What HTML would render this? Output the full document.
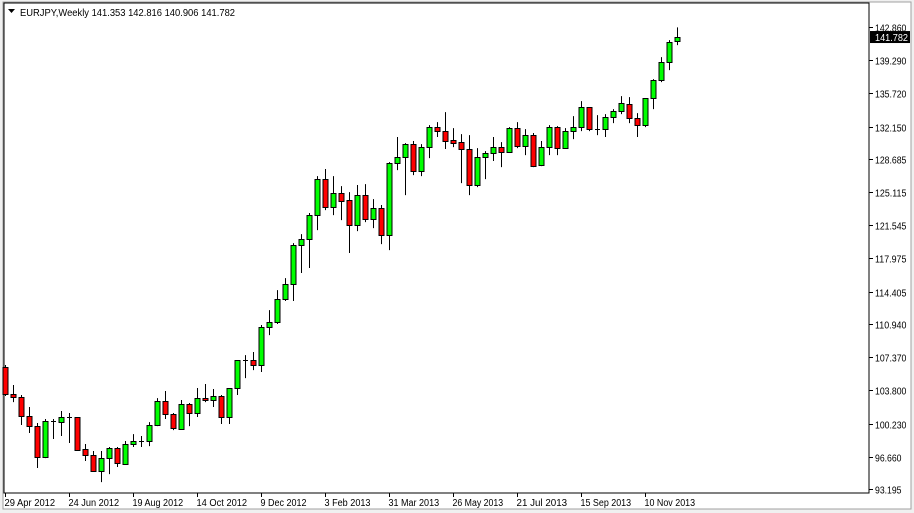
<!DOCTYPE html>
<html><head><meta charset="utf-8"><style>
body{margin:0;width:914px;height:513px;overflow:hidden;background:#fff;font-family:"Liberation Sans",sans-serif;}
svg{display:block}
text{font-family:"Liberation Sans",sans-serif;font-size:10px;}
</style></head><body>
<svg id="chart" width="914" height="513" xmlns="http://www.w3.org/2000/svg">
<rect x="0" y="0" width="914" height="513" fill="#f0f0f0"/>
<rect x="3" y="2" width="908" height="507" fill="#fff" stroke="#a0a0a0"/>
<rect x="4" y="3" width="865" height="490" fill="#fff" stroke="#000"/>
<g id="candles"></g>
<g id="yaxis"></g>
<g id="xaxis"></g>
<path d="M8,9 L15,9 L11.5,13 Z" fill="#000"/>
<text x="20" y="16" fill="#000" textLength="215" lengthAdjust="spacingAndGlyphs">EURJPY,Weekly  141.353 142.816 140.906 141.782</text>
</svg>
<script>
const opens=[106.31,103.40,103.08,101.04,99.96,96.63,100.39,100.39,100.93,100.93,97.49,96.85,95.13,96.52,97.60,95.88,98.03,98.35,98.35,100.07,102.65,101.25,99.64,102.33,101.36,102.97,102.76,103.19,100.93,104.05,107.06,107.06,106.52,110.60,111.14,113.61,115.23,119.42,120.06,122.64,126.51,123.50,125.01,124.25,121.57,124.79,122.21,123.39,120.49,128.23,128.88,130.27,127.37,129.95,132.10,131.67,130.70,130.49,129.74,125.87,128.88,129.31,129.95,129.41,131.99,130.06,131.24,128.02,129.95,132.10,129.84,131.67,132.10,134.25,131.88,131.88,133.17,133.82,134.57,133.07,132.31,135.22,137.15,139.09,141.353];
const highs=[106.52,104.37,103.30,102.01,100.29,100.72,100.72,101.58,101.36,100.93,98.03,97.28,97.28,97.71,97.71,98.35,99.10,98.89,100.39,102.97,103.73,101.36,102.76,102.44,104.05,104.48,103.94,103.30,104.05,107.06,107.59,107.92,110.82,112.43,114.58,115.87,119.63,120.60,122.86,126.83,127.59,126.83,125.76,125.11,125.87,125.97,124.36,123.72,128.34,131.03,130.38,130.60,130.27,132.31,132.64,133.71,131.99,131.35,131.24,129.84,129.52,131.03,130.49,132.10,132.64,131.88,131.46,130.60,132.31,132.21,131.99,133.28,134.89,134.25,133.39,133.50,134.03,135.43,135.32,133.60,135.22,137.26,139.62,141.45,142.816];
const lows=[103.19,102.54,100.07,99.21,95.45,96.52,98.57,98.89,98.14,97.28,96.20,95.02,93.94,94.80,95.56,95.77,97.71,97.71,97.81,99.96,100.72,99.53,99.64,99.96,100.93,102.54,102.01,100.18,100.18,103.30,105.12,105.98,105.77,109.74,110.93,113.40,113.40,116.41,116.95,121.03,123.18,122.64,122.10,118.56,120.92,121.89,121.24,119.52,118.88,127.48,124.79,126.94,126.83,128.77,131.03,129.74,129.95,126.08,124.79,125.65,126.51,128.45,127.80,129.31,129.84,129.09,127.80,127.91,129.09,129.09,129.74,130.81,131.67,131.67,131.24,131.03,132.53,133.50,132.53,131.03,132.10,134.03,136.94,138.23,140.906];
const closes=[103.40,103.08,101.04,99.96,96.63,100.50,100.50,100.93,100.98,97.38,96.85,95.13,96.52,97.60,95.99,98.03,98.35,98.40,100.07,102.65,101.25,99.75,102.33,101.36,102.97,102.76,103.19,100.93,104.05,107.06,107.10,106.52,110.60,111.14,113.61,115.23,119.42,120.06,122.64,126.51,123.50,125.01,124.15,121.57,124.79,122.21,123.39,120.49,128.23,128.88,130.27,127.37,129.95,132.10,131.67,130.60,130.38,129.74,125.87,128.88,129.31,129.95,129.41,131.99,130.06,131.24,127.91,129.95,132.10,129.84,131.67,132.10,134.25,131.88,131.93,133.17,133.82,134.68,133.07,132.31,135.22,137.15,139.09,141.24,141.782];
const priceTicks=["142.860","139.290","135.720","132.150","128.685","125.115","121.545","117.975","114.405","110.940","107.370","103.800","100.230","96.660","93.195"];
const dateLabels=["29 Apr 2012","24 Jun 2012","19 Aug 2012","14 Oct 2012","9 Dec 2012","3 Feb 2013","31 Mar 2013","26 May 2013","21 Jul 2013","15 Sep 2013","10 Nov 2013"];
const lastPrice="141.782";

const NS="http://www.w3.org/2000/svg";
const pMax=142.86,pMin=93.195,yTop=27,yBot=489;
function yScale(p){return yTop+(pMax-p)/(pMax-pMin)*(yBot-yTop);}
function xScale(i){return 5+8*i;}
function mk(tag,attrs,parent){const e=document.createElementNS(NS,tag);for(const k in attrs)e.setAttribute(k,attrs[k]);parent.appendChild(e);return e;}

const cg=document.getElementById('candles');
for(let i=0;i<opens.length;i++){
  const x=Math.round(xScale(i))+0.5;
  const g=mk('g',{},cg);
  
  
  const w=mk('line',{x1:x,x2:x,y1:yScale(highs[i]),y2:yScale(lows[i]),stroke:'#000','stroke-width':1},g);
  
  
  const yo=yScale(opens[i]),yc=yScale(closes[i]);
  const top=Math.min(yo,yc),h=Math.abs(yo-yc);
  if(h<1.5){
    const d=mk('line',{x1:x-2.5,x2:x+2.5,y1:Math.round(top)+0.5,y2:Math.round(top)+0.5,stroke:'#000'},g);
    
    
  }else{
    const r=mk('rect',{x:x-2.5,y:Math.round(top)+0.5,width:5,height:Math.round(h),fill:closes[i]>=opens[i]?'#00ff00':'#ff0000',stroke:'#000'},g);
    
    
  }
}
const yg=document.getElementById('yaxis');
priceTicks.forEach(t=>{
  const y=Math.round(yScale(parseFloat(t)))+0.5;
  const l=mk('line',{x1:869,x2:873,y1:y,y2:y,stroke:'#000'},yg);
  
  
  const tx=mk('text',{x:875,y:y+4,fill:'#000',textLength:(t.length-1)*4.9+2,lengthAdjust:'spacingAndGlyphs'},yg);
  
  
  tx.textContent=t;
});
const ly=yScale(parseFloat(lastPrice));
const lb=mk('rect',{x:870,y:ly-6,width:40,height:12,fill:'#000'},yg);


const lt=mk('text',{x:875,y:ly+4,fill:'#fff',textLength:33,lengthAdjust:'spacingAndGlyphs'},yg);


lt.textContent=lastPrice;

const xg=document.getElementById('xaxis');
dateLabels.forEach((d,k)=>{
  const x=Math.round(xScale(k*8))+0.5;
  const l=mk('line',{x1:x,x2:x,y1:493,y2:497,stroke:'#000'},xg);
  
  
  const tx=mk('text',{x:x-1,y:506,fill:'#000',textLength:d.length*4.6,lengthAdjust:'spacingAndGlyphs'},xg);
  
  
  tx.textContent=d;
});
</script>
</body></html>
